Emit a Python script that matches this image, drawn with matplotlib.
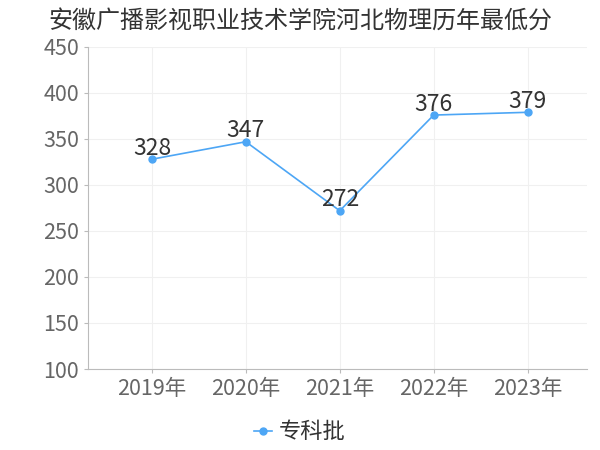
import matplotlib
matplotlib.use("Agg")
import matplotlib.pyplot as plt

plt.rcParams['font.family'] = ['Noto Sans CJK SC', 'DejaVu Sans']

years = ['2019年', '2020年', '2021年', '2022年', '2023年']
scores = [328, 347, 272, 376, 379]
series_name = '专科批'
title = '安徽广播影视职业技术学院河北物理历年最低分'
yticks = [100, 150, 200, 250, 300, 350, 400, 450]

color = '#4da6f5'

fig = plt.figure(figsize=(6, 4.5), dpi=100)
ax = fig.add_axes([0.1467, 0.18, 0.8313, 0.7156])

x = list(range(len(years)))
ax.plot(x, scores, color=color, lw=1.2, marker='o', ms=5, label=series_name)
for xi, v in zip(x, scores):
    ax.annotate(str(v), (xi, v), xytext=(0, -0.5), textcoords='offset points',
                ha='center', va='bottom', fontsize=16.5, color='#333333')

ax.set_xlim(-0.68, 4.63)
ax.set_ylim(100, 450)
ax.set_yticks(yticks)
ax.set_xticks(x)
ax.set_xticklabels(years)
ax.grid(True, color='#f0f0f0', lw=0.8)
ax.set_axisbelow(True)
for s in ['top', 'right']:
    ax.spines[s].set_visible(False)
for s in ['left', 'bottom']:
    ax.spines[s].set_color('#bbbbbb')
ax.tick_params(axis='both', colors='#bbbbbb', labelcolor='#666666', labelsize=15.5, length=3)

fig.text(0.5, 0.955, title, ha='center', va='center', fontsize=17.3, color='#333333')
fig.legend(loc='center', bbox_to_anchor=(0.5, 0.04), frameon=False, fontsize=16,
           handlelength=0.8, handletextpad=0.3, labelcolor='#333333')

fig.savefig('out.png', dpi=100)
